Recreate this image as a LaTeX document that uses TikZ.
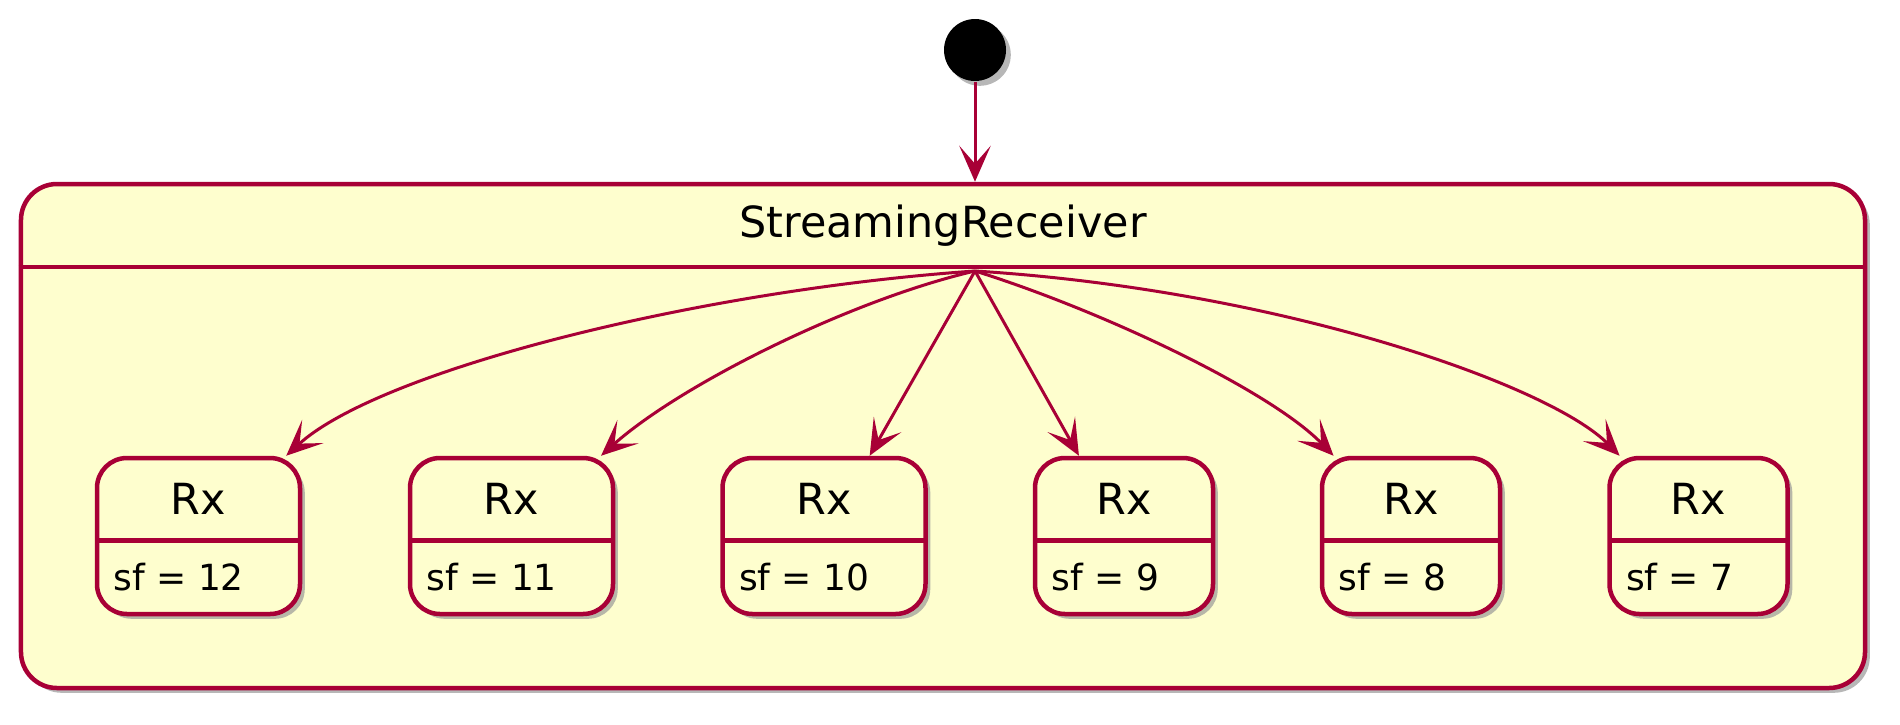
\documentclass[tikz,border=0pt]{standalone}
\usepackage{fontspec}
\setmainfont{DejaVu Sans}
\usetikzlibrary{arrows.meta,shadows}
\definecolor{umlred}{HTML}{A80036}
\definecolor{umlfill}{HTML}{FEFECE}

\begin{document}
\begin{tikzpicture}[x=0.33333pt, y=-0.33333pt,
    umlshadow/.style={drop shadow={shadow xshift=1.6pt, shadow yshift=-1.6pt, fill=black!40, opacity=.7}},
    stateframe/.style={draw=umlred, line width=1.5pt, fill=umlfill, rounded corners=12pt, umlshadow, inner sep=0pt},
    rxbox/.style={draw=umlred, line width=1.5pt, fill=umlfill, rounded corners=10pt, umlshadow, inner sep=0pt, minimum height=52pt},
    divider/.style={draw=umlred, line width=1.5pt},
    trans/.style={draw=umlred, line width=1pt, -{Stealth[length=12pt, width=10.5pt, inset=6pt]}},
    bigtext/.style={inner sep=0pt, anchor=base, font=\fontsize{14.3}{17}\selectfont},
    smalltext/.style={inner sep=0pt, anchor=base west, font=\fontsize{12}{14}\selectfont}]

  \useasboundingbox (0,0) rectangle (1900,724);

  % -------------------------
  % Begintoestand
  % -------------------------
  \node[circle, fill=black, inner sep=0pt, minimum size=20.67pt, umlshadow] (init) at (975,50) {};

  % -------------------------
  % Samengestelde toestand
  % -------------------------
  \node[stateframe, minimum width=614.67pt, minimum height=168pt] (recv) at (943,436) {};
  \node[bigtext] (recvtitle) at (943,237) {StreamingReceiver};
  \draw[divider] (recv.west |- 0,267) -- (recv.east |- 0,267);

  \draw[trans] (init) -- (init |- recv.north);

  % -------------------------
  % Deeltoestanden Rx
  % -------------------------
  \foreach \n/\cx/\w in {12/198.5/203, 11/511.5/203, 10/824/203, 9/1124/178, 8/1411/178, 7/1698.5/178} {
    \node[rxbox, minimum width=\w*0.33333pt] (rx\n) at (\cx,536) {};
    \draw[divider] (\cx-\w/2,540.5) -- (\cx+\w/2,540.5);
    \node[bigtext] (rxname\n) at (\cx,514.5) {Rx};
    \node[smalltext] (rxval\n) at (\cx-\w/2+16,590.5) {sf = \n};
  }

  % Overgangen
  \coordinate (hub) at (975,271);
  \draw[trans] (hub) .. controls (700,290) and (380,370) .. (rx12);
  \draw[trans] (hub) .. controls (850,300) and (680,385) .. (rx11);
  \draw[trans] (hub) -- (rx10);
  \draw[trans] (hub) -- (rx9);
  \draw[trans] (hub) .. controls (1100,310) and (1270,390) .. (rx8);
  \draw[trans] (hub) .. controls (1280,290) and (1550,385) .. (rx7);

\end{tikzpicture}
\end{document}
